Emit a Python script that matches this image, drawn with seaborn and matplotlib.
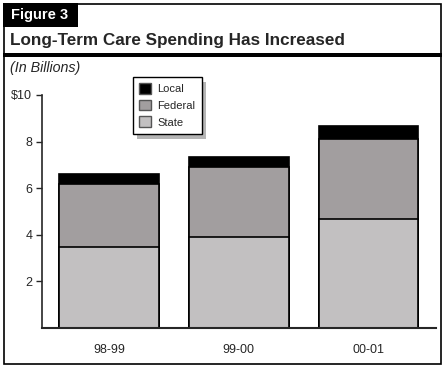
import matplotlib
matplotlib.use("Agg")
import matplotlib.pyplot as plt
from matplotlib.patches import Rectangle, Patch
import pandas as pd
import seaborn as sns

# Data (billions of dollars)
years = ['98-99', '99-00', '00-01']
state = [3.47, 3.90, 4.68]
federal = [2.71, 3.00, 3.44]
local = [0.42, 0.43, 0.55]

state_color = '#c2c0c1'
federal_color = '#a29e9f'
local_color = '#000000'

df = pd.DataFrame({'Year': years, 'State': state, 'Federal': federal, 'Local': local})
df['StateFed'] = df['State'] + df['Federal']
df['Total'] = df['StateFed'] + df['Local']

sns.set_style('white')
plt.rcParams['font.family'] = ['Liberation Sans', 'DejaVu Sans']

W, H = 445, 370
fig = plt.figure(figsize=(W / 100, H / 100), dpi=100)

def fx(px):
    return px / W

def fy(py):
    return 1 - py / H

ax = fig.add_axes([fx(42), fy(328), fx(436) - fx(42), fy(95) - fy(328)])

# stacked bars: draw cumulative totals from top layer down
for col, colr in [('Total', local_color), ('StateFed', federal_color), ('State', state_color)]:
    sns.barplot(data=df, x='Year', y=col, color=colr, width=0.77,
                edgecolor='black', linewidth=1.2, saturation=1, ax=ax)

ax.set_xlim(-0.515, 2.52)
ax.set_ylim(0, 10)
ax.set_yticks([2, 4, 6, 8, 10])
ax.set_yticklabels(['2', '4', '6', '8', '$10'])
ax.set_xlabel('')
ax.set_ylabel('')
ax.tick_params(axis='y', left=True, length=4, width=1, pad=3, labelsize=9)
ax.tick_params(axis='x', bottom=False, pad=8, labelsize=9)
sns.despine(ax=ax, top=True, right=True)
ax.spines['left'].set_linewidth(1.2)
ax.spines['bottom'].set_linewidth(1.5)

# legend with drop shadow
handles = [Patch(facecolor=local_color, edgecolor='#555555', label='Local'),
           Patch(facecolor=federal_color, edgecolor='#555555', label='Federal'),
           Patch(facecolor=state_color, edgecolor='#555555', label='State')]
leg = fig.legend(handles=handles, loc='upper left', bbox_to_anchor=(fx(133), fy(77)),
                 frameon=True, fancybox=False, fontsize=8, handlelength=1.1,
                 handleheight=1.1, handletextpad=0.55, borderpad=0.55, labelspacing=0.5,
                 borderaxespad=0)
leg.get_frame().set_edgecolor('black')
leg.get_frame().set_linewidth(1)
leg.get_frame().set_alpha(1)
leg.set_zorder(5)

fig.canvas.draw()
bb = leg.get_window_extent().transformed(fig.transFigure.inverted())
fig.add_artist(Rectangle((bb.x0 + fx(4), bb.y0 - 5 / H), bb.width, bb.height,
                         transform=fig.transFigure, facecolor='#b5b5b5',
                         edgecolor='none', zorder=4))

# outer frame and header
fig.add_artist(Rectangle((fx(3.5), fy(364)), fx(441) - fx(3.5), fy(4) - fy(364),
                         transform=fig.transFigure, facecolor='none', edgecolor='black', linewidth=1.2))
fig.add_artist(Rectangle((fx(3), fy(27)), fx(78) - fx(3), fy(3) - fy(27),
                         transform=fig.transFigure, facecolor='black', edgecolor='none'))
fig.add_artist(Rectangle((fx(3), fy(57)), fx(442) - fx(3), fy(53) - fy(57),
                         transform=fig.transFigure, facecolor='black', edgecolor='none'))
fig.text(fx(11), fy(15), 'Figure 3', color='white', fontsize=10.5, fontweight='bold', va='center')
fig.text(fx(10), fy(41), 'Long-Term Care Spending Has Increased', fontsize=12.3,
         fontweight='bold', va='center')
fig.text(fx(10), fy(68), '(In Billions)', fontsize=10.3, style='italic', va='center')

fig.savefig('out.png', dpi=100)
